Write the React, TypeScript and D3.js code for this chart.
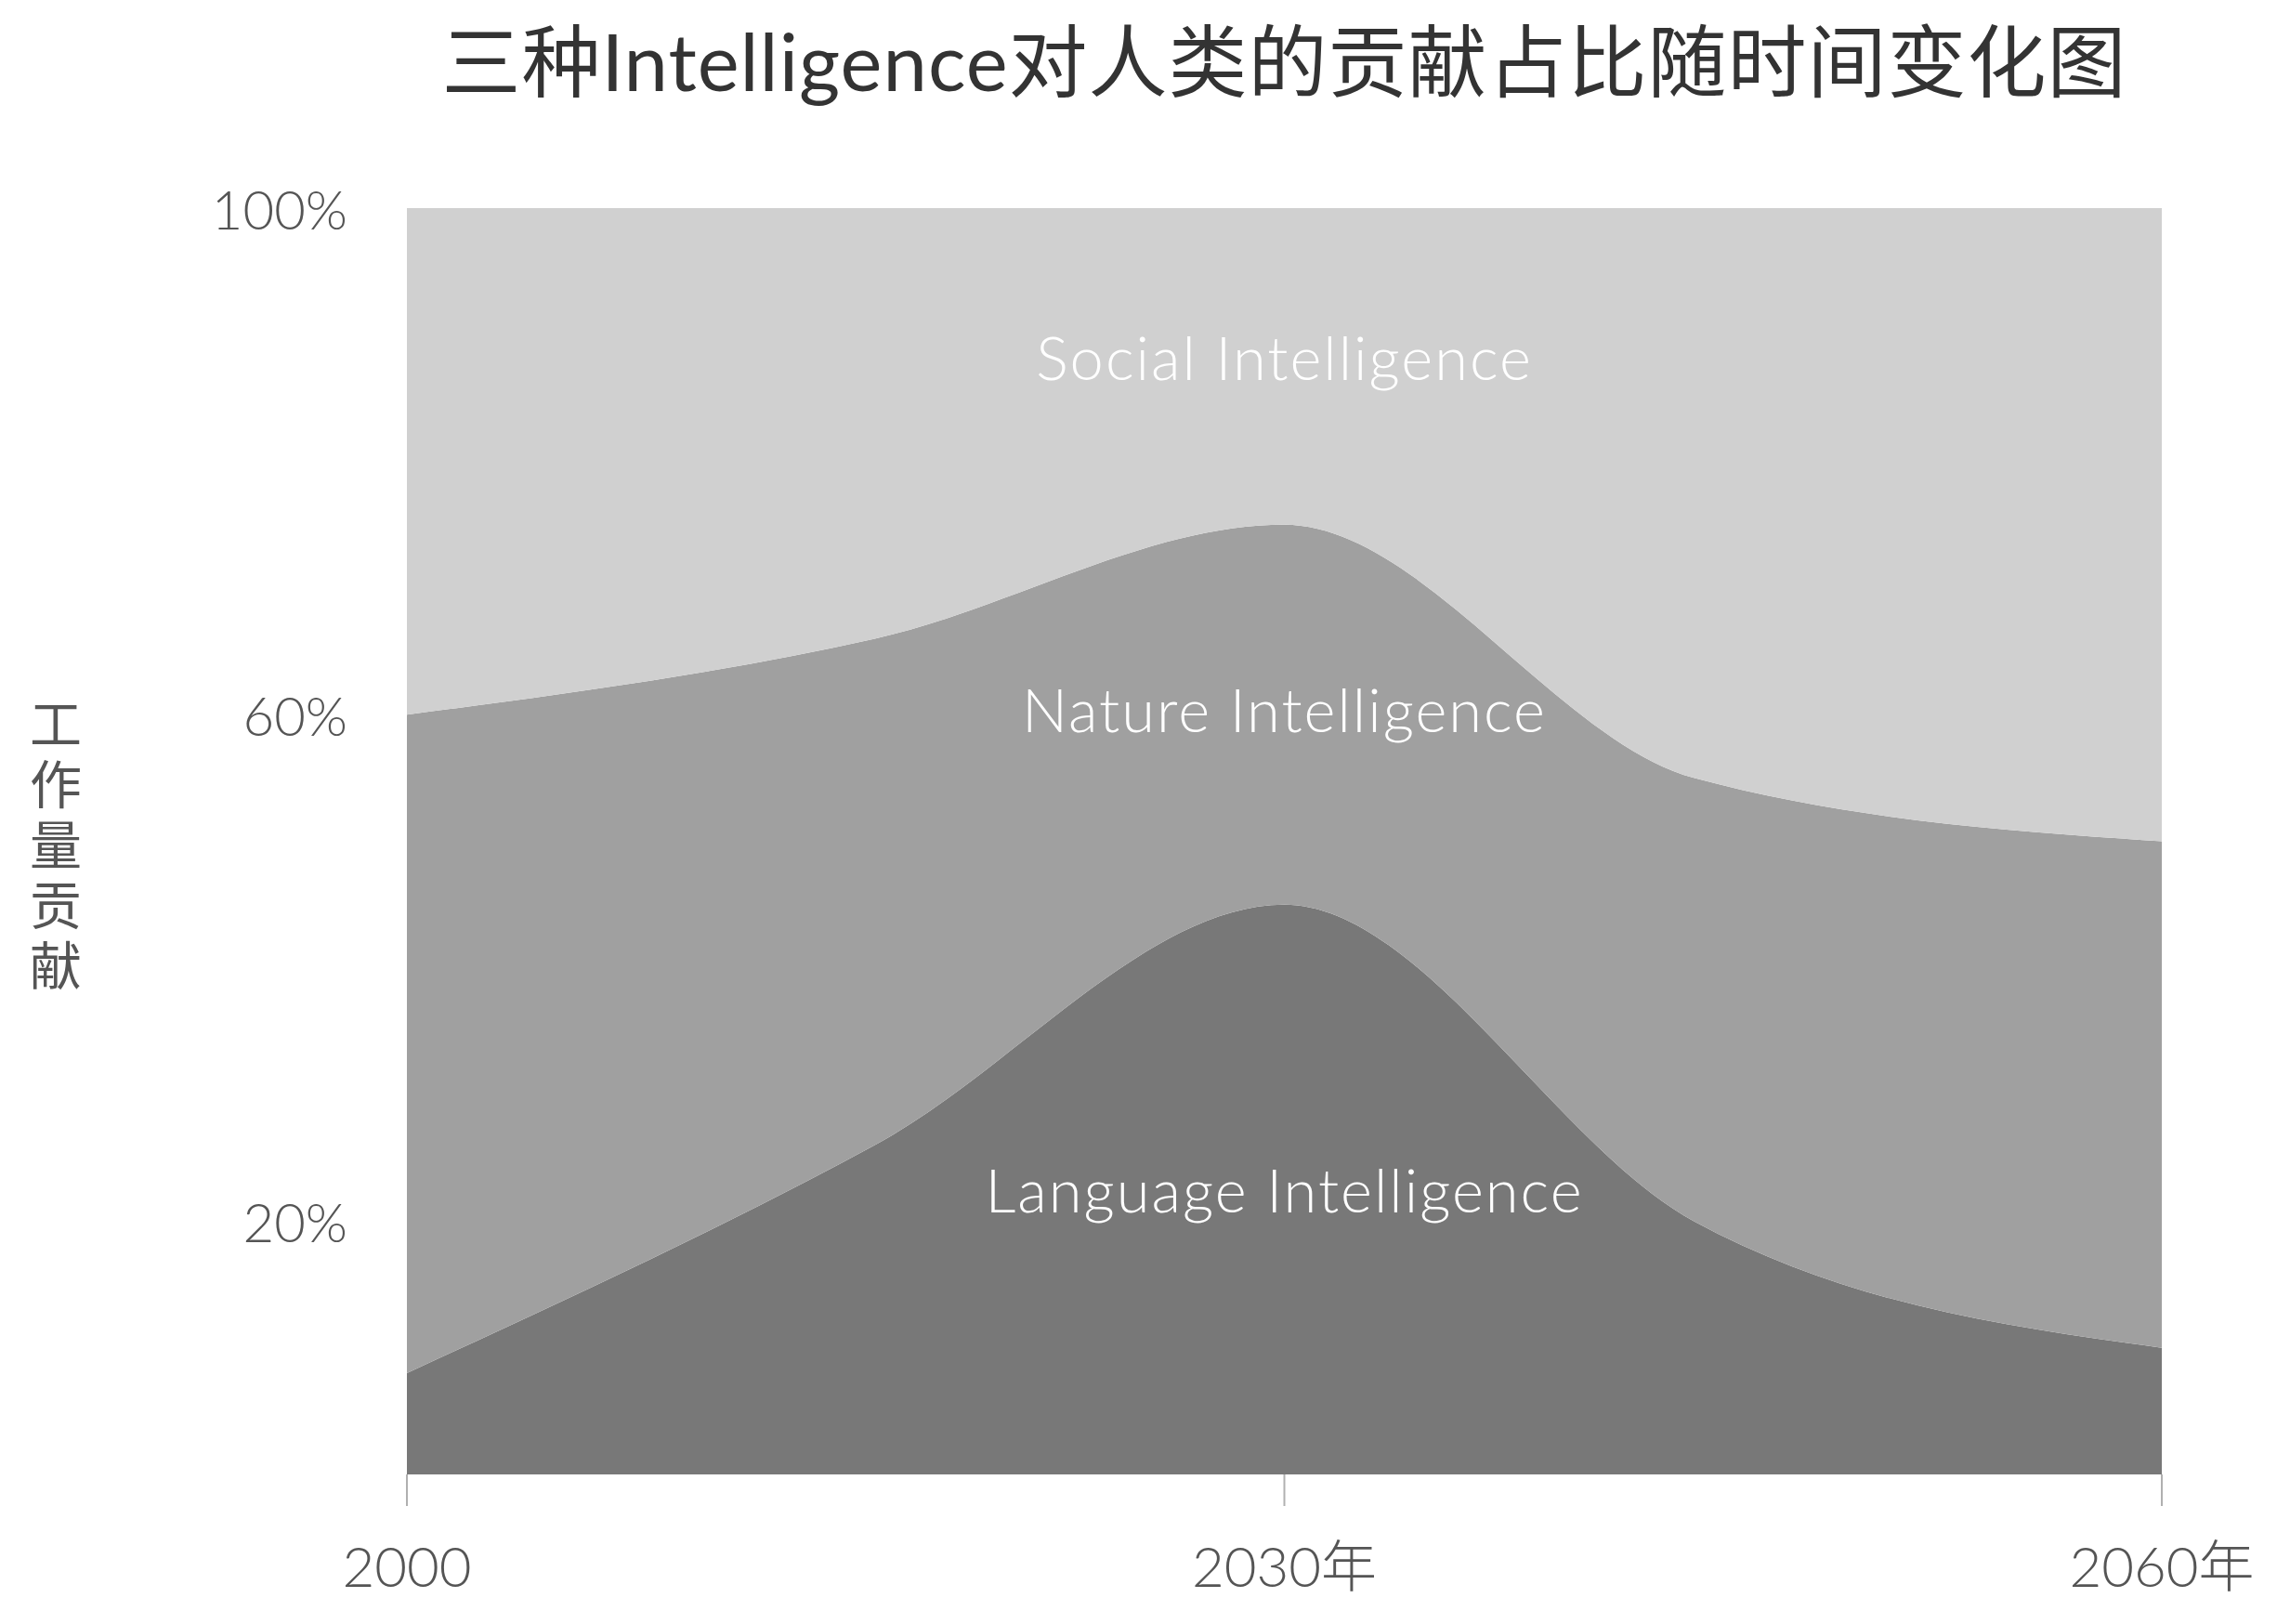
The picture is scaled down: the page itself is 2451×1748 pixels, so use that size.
import { useEffect, useRef } from "react";
import * as d3 from "d3";

// values (share of total, stacked bottom to top)
const years = [2000, 2016, 2030, 2044, 2060];
const language = [0.08, 0.26, 0.45, 0.2, 0.1];
const nature = [0.52, 0.4, 0.3, 0.35, 0.4];
const social = [0.4, 0.34, 0.25, 0.45, 0.5];

const seriesKeys = ["language", "nature", "social"];
const seriesLabels = ["Language Intelligence", "Nature Intelligence", "Social Intelligence"];
const seriesColors = ["#787878", "#a0a0a0", "#d0d0d0"];

const yTicks = [0.2, 0.6, 1.0];
const yTickLabels = ["20%", "60%", "100%"];
const xTicks = [2000, 2030, 2060];
const xTickLabels = ["2000", "2030年", "2060年"];

const title = "三种Intelligence对人类的贡献占比随时间变化图";
const yTitle = "工作量贡献";
const labelYear = 2030;

const W = 2451;
const H = 1748;
const FONT = "Lato, 'Noto Sans CJK SC', sans-serif";

export default function App() {
  const svgRef = useRef<SVGSVGElement>(null);

  useEffect(() => {
    if (!svgRef.current) return;
    const svg = d3.select(svgRef.current);
    svg.selectAll("*").remove();

    const margin = { top: 224, right: 124, bottom: 161, left: 438 };

    const rows = years.map((yr, i) => ({
      year: yr,
      language: language[i],
      nature: nature[i],
      social: social[i],
    }));

    const x = d3.scaleLinear().domain([2000, 2060]).range([margin.left, W - margin.right]);
    const y = d3.scaleLinear().domain([0, 1]).range([H - margin.bottom, margin.top]);

    const stacked = d3.stack<any>().keys(seriesKeys)(rows);

    const area = d3
      .area<any>()
      .x((d) => x(d.data.year))
      .y0((d) => y(d[0]))
      .y1((d) => y(d[1]))
      .curve(d3.curveMonotoneX);

    svg
      .append("g")
      .selectAll("path")
      .data(stacked)
      .join("path")
      .attr("d", area as any)
      .attr("fill", (_d, i) => seriesColors[i]);

    // labels centred in each band at 2030
    const li = years.indexOf(labelYear);
    const labelShift = [0, -6, -10];
    svg
      .append("g")
      .selectAll("text")
      .data(stacked)
      .join("text")
      .attr("x", x(labelYear))
      .attr("y", (s, i) => y((s[li][0] + s[li][1]) / 2) + labelShift[i])
      .attr("text-anchor", "middle")
      .attr("dominant-baseline", "central")
      .attr("fill", "#ffffff")
      .attr("font-family", FONT)
      .attr("font-weight", 300)
      .attr("font-size", "65px")
      .attr("letter-spacing", "2px")
      .text((_s, i) => seriesLabels[i]);

    // x axis: ticks only, below the plot
    const xAxis = svg.append("g").attr("transform", `translate(0,${H - margin.bottom})`);
    xAxis
      .selectAll("line")
      .data(xTicks)
      .join("line")
      .attr("x1", (d) => x(d))
      .attr("x2", (d) => x(d))
      .attr("y1", 0)
      .attr("y2", 34)
      .attr("stroke", "#b0b0b0")
      .attr("stroke-width", 2);
    xAxis
      .selectAll("text")
      .data(xTicks)
      .join("text")
      .attr("x", (d) => x(d))
      .attr("y", 121)
      .attr("text-anchor", "middle")
      .attr("fill", "#555555")
      .attr("font-family", FONT)
      .attr("font-weight", 300)
      .attr("font-size", "60px")
      .text((_d, i) => xTickLabels[i]);

    // y tick labels
    svg
      .append("g")
      .selectAll("text")
      .data(yTicks)
      .join("text")
      .attr("x", 374)
      .attr("y", (d) => y(d))
      .attr("text-anchor", "end")
      .attr("dominant-baseline", "central")
      .attr("fill", "#555555")
      .attr("font-family", FONT)
      .attr("font-weight", 300)
      .attr("font-size", "58px")
      .text((_d, i) => yTickLabels[i]);

    // vertical y title, one character per line
    const yt = svg
      .append("text")
      .attr("fill", "#555555")
      .attr("font-family", FONT)
      .attr("font-size", "56px")
      .attr("text-anchor", "middle");
    Array.from(yTitle).forEach((ch, i) => {
      yt.append("tspan")
        .attr("x", 60)
        .attr("y", 800 + i * 65)
        .text(ch);
    });

    svg
      .append("text")
      .attr("x", (margin.left + W - margin.right) / 2)
      .attr("y", 98)
      .attr("text-anchor", "middle")
      .attr("fill", "#333333")
      .attr("font-family", FONT)
      .attr("font-size", "85px")
      .attr("letter-spacing", "1px")
      .text(title);
  }, []);

  return (
    <svg
      ref={svgRef}
      width={W}
      height={H}
      viewBox={`0 0 ${W} ${H}`}
      style={{ position: "absolute", left: 0, top: 0, background: "#ffffff" }}
    />
  );
}
